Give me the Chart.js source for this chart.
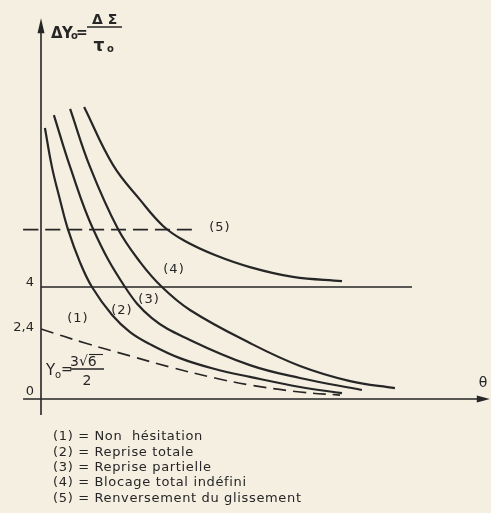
<!DOCTYPE html>
<html>
<head>
<meta charset="utf-8">
<script src="https://cdn.jsdelivr.net/npm/chart.js@4.4.1/dist/chart.umd.min.js"></script>
<style>
  html, body { margin: 0; padding: 0; background: #f5efe2; }
  #wrap { width: 491px; height: 513px; }
</style>
</head>
<body>
<div id="wrap"><canvas id="c" width="491" height="513"></canvas></div>
<script>
// ---- data (theta on x, ΔY0 on y) ----
const curve1X = [0.14, 0.39, 0.68, 0.96, 1.39, 1.82, 2.54, 3.18, 3.89, 4.96, 6.21, 7.46, 9.25, 10.75];
const curve1Y = [9.68, 8.29, 7.11, 6.07, 4.89, 4.0, 3.0, 2.39, 1.96, 1.46, 1.07, 0.79, 0.43, 0.21];
const curve2X = [0.46, 1.04, 1.86, 3.0, 3.96, 5.32, 7.46, 9.25, 11.46];
const curve2Y = [10.14, 8.29, 6.07, 4.0, 2.89, 2.11, 1.21, 0.75, 0.32];
const curve3X = [1.04, 1.75, 2.75, 3.54, 4.32, 5.32, 7.46, 9.25, 11.04, 12.64];
const curve3Y = [10.36, 8.29, 6.07, 4.89, 4.0, 3.18, 2.0, 1.18, 0.64, 0.39];
const curve4X = [1.54, 2.57, 3.54, 4.36, 5.14, 6.21, 7.46, 9.0, 10.75];
const curve4Y = [10.43, 8.36, 7.11, 6.18, 5.64, 5.14, 4.71, 4.36, 4.21];
const y0X = [0, 1.57, 3.18, 4.61, 6.21, 7.46, 9.25, 10.68];
const y0Y = [2.5, 2.0, 1.54, 1.14, 0.75, 0.5, 0.25, 0.14];
const level4X = [0, 13.25];
const level4Y = [4, 4];
const level5X = [-0.64, 5.57];
const level5Y = [6.05, 6.05];

const yTickValues = [0, 2.4, 4];
const yTickLabels = ['0', '2,4', '4'];
const regionLabels = ['(1)', '(2)', '(3)', '(4)', '(5)'];
const regionLabelX = [1.32, 2.89, 3.86, 4.75, 6.39];
const regionLabelY = [2.86, 3.14, 3.54, 4.61, 6.11];
const legendLines = [
  '(1) = Non  hésitation',
  '(2) = Reprise totale',
  '(3) = Reprise partielle',
  '(4) = Blocage total indéfini',
  '(5) = Renversement du glissement'
];

const INK = '#262626';
const pts = (xs, ys) => xs.map((x, i) => ({ x: x, y: ys[i] }));

function curveDs(xs, ys, dash, width) {
  return {
    data: pts(xs, ys),
    showLine: true,
    borderColor: INK,
    borderWidth: width,
    borderDash: dash,
    pointRadius: 0,
    tension: 0.4,
    fill: false,
    clip: false
  };
}

const decor = {
  id: 'decor',
  afterDatasetsDraw(chart) {
    const ctx = chart.ctx;
    const xs = chart.scales.x, ys = chart.scales.y;
    const px = v => xs.getPixelForValue(v);
    const py = v => ys.getPixelForValue(v);
    ctx.save();
    ctx.strokeStyle = INK;
    ctx.fillStyle = INK;
    // axes
    ctx.lineWidth = 1.6;
    ctx.beginPath();
    ctx.moveTo(px(0), py(-0.57));
    ctx.lineTo(px(0), py(13.1));
    ctx.moveTo(px(-0.64), py(0));
    ctx.lineTo(px(15.6), py(0));
    ctx.stroke();
    // arrow heads
    ctx.beginPath();
    ctx.moveTo(px(0), py(13.6));
    ctx.lineTo(px(0) - 3.5, py(13.6) + 15);
    ctx.lineTo(px(0) + 3.5, py(13.6) + 15);
    ctx.closePath();
    ctx.fill();
    ctx.beginPath();
    ctx.moveTo(px(16.03), py(0));
    ctx.lineTo(px(16.03) - 13, py(0) - 3.5);
    ctx.lineTo(px(16.03) - 13, py(0) + 3.5);
    ctx.closePath();
    ctx.fill();

    // y tick labels
    ctx.font = '13px "DejaVu Sans"';
    ctx.textAlign = 'right';
    ctx.textBaseline = 'alphabetic';
    yTickValues.forEach((v, i) => {
      ctx.fillText(yTickLabels[i], px(0) - 7, py(v) - 1 - (v === 0 ? 3 : 0));
    });

    // region labels
    ctx.textAlign = 'center';
    ctx.textBaseline = 'middle';
    ctx.letterSpacing = '1px';
    regionLabels.forEach((t, i) => {
      ctx.fillText(t, px(regionLabelX[i]), py(regionLabelY[i]));
    });
    ctx.letterSpacing = '0px';

    // theta
    ctx.font = '14px "DejaVu Sans"';
    ctx.fillText('θ', px(15.79), py(0.57));

    // ΔY0 = ΔΣ / τ0
    ctx.textAlign = 'left';
    ctx.textBaseline = 'alphabetic';
    ctx.font = 'bold 15px "DejaVu Sans"';
    ctx.fillText('Δ', 51, 38);
    ctx.fillText('Y', 62, 38);
    ctx.font = 'bold 10px "DejaVu Sans"';
    ctx.fillText('o', 71, 39);
    ctx.font = 'bold 14px "DejaVu Sans"';
    ctx.fillText('=', 76, 37);
    ctx.lineWidth = 1.7;
    ctx.beginPath(); ctx.moveTo(87, 27); ctx.lineTo(122, 27); ctx.stroke();
    ctx.textAlign = 'center';
    ctx.font = 'bold 14px "DejaVu Sans"';
    ctx.fillText('Δ', 97.5, 24);
    ctx.fillText('Σ', 112.5, 24);
    ctx.font = 'bold 17px "DejaVu Sans"';
    ctx.fillText('τ', 99, 51);
    ctx.textAlign = 'left';
    ctx.font = 'bold 10px "DejaVu Sans"';
    ctx.fillText('o', 107, 52);

    // Y0 = 3√6 / 2
    ctx.textAlign = 'left';
    ctx.font = '15px "DejaVu Sans"';
    ctx.fillText('Y', 46, 375);
    ctx.font = '10px "DejaVu Sans"';
    ctx.fillText('o', 55, 378);
    ctx.font = '14px "DejaVu Sans"';
    ctx.fillText('=', 61, 374);
    ctx.fillText('3√6', 70, 366);
    ctx.lineWidth = 1.1;
    ctx.beginPath(); ctx.moveTo(89, 354.5); ctx.lineTo(103, 354.5); ctx.stroke();
    ctx.lineWidth = 1.3;
    ctx.beginPath(); ctx.moveTo(70, 369); ctx.lineTo(104, 369); ctx.stroke();
    ctx.textAlign = 'center';
    ctx.fillText('2', 87, 385);

    // legend text block
    ctx.textAlign = 'left';
    ctx.textBaseline = 'middle';
    ctx.font = '13px "DejaVu Sans"';
    ctx.letterSpacing = '0.65px';
    legendLines.forEach((t, i) => {
      ctx.fillText(t, 53, 437 + i * 15.3);
    });
    ctx.letterSpacing = '0px';
    ctx.restore();
  }
};

new Chart(document.getElementById('c'), {
  type: 'scatter',
  data: {
    datasets: [
      curveDs(curve1X, curve1Y, [], 2.2),
      curveDs(curve2X, curve2Y, [], 2.2),
      curveDs(curve3X, curve3Y, [], 2.2),
      curveDs(curve4X, curve4Y, [], 2.2),
      curveDs(y0X, y0Y, [13, 7], 1.6),
      curveDs(level4X, level4Y, [], 1.6),
      curveDs(level5X, level5Y, [15, 7], 1.6)
    ]
  },
  options: {
    responsive: false,
    animation: false,
    devicePixelRatio: 1,
    layout: { padding: 0 },
    plugins: { legend: { display: false }, tooltip: { enabled: false } },
    scales: {
      x: { type: 'linear', display: false, min: -41 / 28, max: 450 / 28 },
      y: { type: 'linear', display: false, min: -114 / 28, max: 399 / 28 }
    }
  },
  plugins: [decor]
});
</script>
</body>
</html>
